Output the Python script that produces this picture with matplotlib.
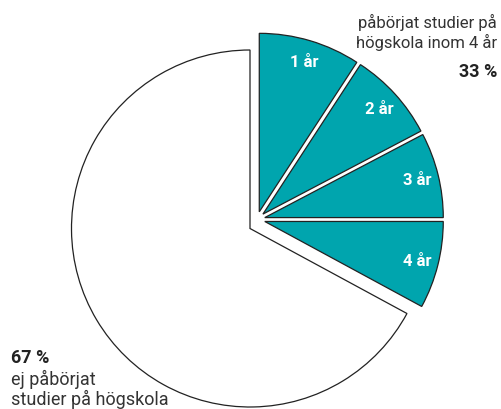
import numpy as np
import matplotlib
matplotlib.use("Agg")
import matplotlib.pyplot as plt

plt.rcParams['font.family'] = ['Roboto', 'DejaVu Sans']

# andel i procent
labels = ["1 år", "2 år", "3 år", "4 år", ""]
values = [9.2, 8.1, 7.7, 7.9, 67.1]
colors = ["#00a5ae", "#00a5ae", "#00a5ae", "#00a5ae", "white"]
top_text = "påbörjat studier på\nhögskola inom 4 år"
top_pct = "33 %"
bottom_pct = "67 %"
bottom_text = "ej påbörjat\nstudier på högskola"

W, H = 501, 410
fig = plt.figure(figsize=(W / 100, H / 100), dpi=100)
ax = fig.add_axes([0, 0, 1, 1])

cx, cy, R = 250, H - 229.5, 178.5
shift = (7, 9)       # hela turkosa gruppen flyttas ut
explode = [8] * 4 + [0]   # i pixlar (dataenheter)

wedges, _ = ax.pie(values, colors=colors, startangle=90, counterclock=False,
                   radius=R, center=(cx, cy), explode=explode,
                   wedgeprops=dict(edgecolor="#222222", linewidth=0.9))

for w, lab in zip(wedges[:4], labels[:4]):
    x0, y0 = w.center
    w.set_center((x0 + shift[0], y0 + shift[1]))
    mid = np.deg2rad((w.theta1 + w.theta2) / 2)
    x0, y0 = w.center
    ax.text(x0 + 0.88 * R * np.cos(mid), y0 + 0.88 * R * np.sin(mid), lab,
            color="white", fontsize=12, fontweight="bold",
            ha="center", va="center")

txt = "#333333"
ax.text(497, H - 32.5, top_text, ha="right", va="center", fontsize=12,
        color=txt, linespacing=1.15)
ax.text(497, H - 72, top_pct, ha="right", va="center", fontsize=13,
        fontweight="bold", color="#222222")
ax.text(11, H - 358, bottom_pct, ha="left", va="center", fontsize=13,
        fontweight="bold", color="#222222")
for i, line in enumerate(bottom_text.split("\n")):
    ax.text(11, H - 385 - 20 * i, line, ha="left", va="baseline",
            fontsize=13, color=txt)

ax.set_xlim(0, W)
ax.set_ylim(0, H)
ax.set_aspect("equal")
ax.axis("off")
fig.savefig("out.png", dpi=100)
